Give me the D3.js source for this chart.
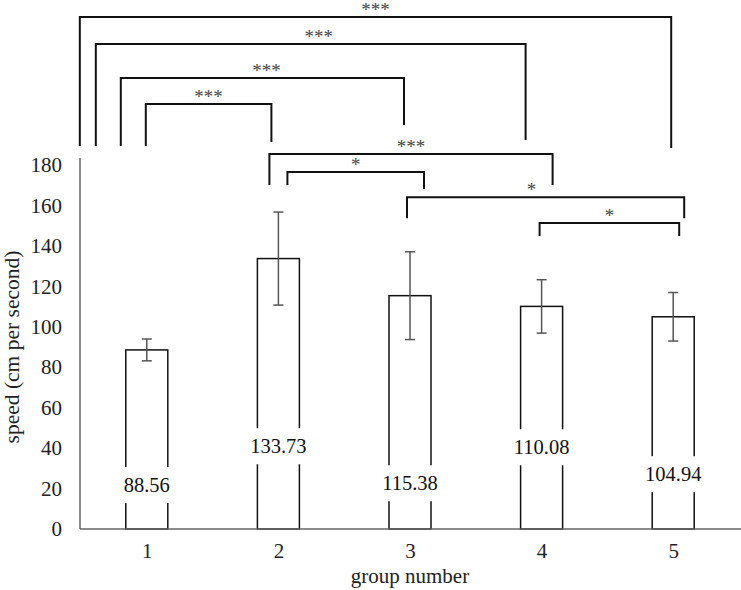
<!DOCTYPE html>
<html>
<head>
<meta charset="utf-8">
<script src="https://cdn.jsdelivr.net/npm/d3@7"></script>
<style>
  body { margin: 0; background: #fff; }
</style>
</head>
<body>
<script>
// data
var groups = ["1", "2", "3", "4", "5"];
var speeds = [88.56, 133.73, 115.38, 110.08, 104.94];
var errors = [5.4, 23, 21.7, 13.2, 12];
var yTicks = [0, 20, 40, 60, 80, 100, 120, 140, 160, 180];

// significance comparisons: from group, to group, stars
var compFrom = ["1", "1", "1", "1", "2", "2", "3", "4"];
var compTo = ["5", "4", "3", "2", "4", "3", "5", "5"];
var compStars = ["***", "***", "***", "***", "***", "*", "*", "*"];

// layout of the brackets (speed units for heights, px offsets from the group centre)
var compTop = [253.2, 239.8, 223, 210.2, 185.4, 176.5, 164.1, 151.3];
var compLegL = [189.4, 189.4, 189.4, 189.4, 170.1, 170.1, 153.7, 144.9];
var compLegR = [188.4, 192.4, 199.8, 191.4, 170.1, 168.1, 153.7, 144.9];
var compDxL = [-67, -51, -26, -1, -9, 9, -3, -2];
var compDxR = [-2, -16, -6, -7, 11, 14, 11, 6];
var starShift = [0, 8, 4, 0, 0, 0, -14, 0];

// where the value labels sit inside the bars (speed units)
var labelAt = [21.8, 41, 22.7, 40.5, 27.2];

var width = 741;
var height = 590;
var barWidth = 42;
var serif = "'Liberation Serif', 'DejaVu Serif', serif";

var svg = d3.select("body")
    .append("svg")
    .attr("width", width)
    .attr("height", height)
    .style("font-family", serif);

var x = d3.scalePoint()
    .domain(groups)
    .range([81, 739])
    .padding(0.5);

var y = d3.scaleLinear()
    .domain([0, 180])
    .range([529, 165]);

// y axis
var yAxis = svg.append("g")
    .attr("transform", "translate(80,0)")
    .call(d3.axisLeft(y).tickValues(yTicks).tickSize(0).tickPadding(18))
    .attr("font-family", null);
yAxis.select(".domain").remove();
yAxis.selectAll("text")
    .style("font-family", serif)
    .style("font-size", "21px")
    .attr("fill", "#222");
svg.append("line")
    .attr("x1", 80).attr("x2", 80)
    .attr("y1", y(0)).attr("y2", y(183.5))
    .attr("stroke", "#666")
    .attr("stroke-width", 1.5);

// x axis
var xAxis = svg.append("g")
    .attr("transform", "translate(0," + y(0) + ")")
    .call(d3.axisBottom(x).tickSize(0).tickPadding(14))
    .attr("font-family", null);
xAxis.select(".domain").remove();
xAxis.selectAll("text")
    .style("font-family", serif)
    .style("font-size", "21px")
    .attr("fill", "#222");

// bars (open boxes)
svg.selectAll(".bar")
    .data(speeds)
    .enter()
    .append("rect")
    .attr("class", "bar")
    .attr("x", function(d, i) { return x(groups[i]) - barWidth / 2; })
    .attr("y", function(d) { return y(d); })
    .attr("width", barWidth)
    .attr("height", function(d) { return y(0) - y(d); })
    .attr("fill", "#fff")
    .attr("stroke", "#111")
    .attr("stroke-width", 1.5);

svg.append("line")
    .attr("x1", 80).attr("x2", width)
    .attr("y1", y(0)).attr("y2", y(0))
    .attr("stroke", "#666")
    .attr("stroke-width", 1.5);

// error bars
var err = svg.selectAll(".err")
    .data(speeds)
    .enter()
    .append("g")
    .attr("class", "err")
    .attr("stroke", "#555")
    .attr("stroke-width", 1.5);
err.append("line")
    .attr("x1", function(d, i) { return x(groups[i]); })
    .attr("x2", function(d, i) { return x(groups[i]); })
    .attr("y1", function(d, i) { return y(d - errors[i]); })
    .attr("y2", function(d, i) { return y(d + errors[i]); });
[-1, 1].forEach(function(s) {
    err.append("line")
        .attr("x1", function(d, i) { return x(groups[i]) - 5; })
        .attr("x2", function(d, i) { return x(groups[i]) + 5; })
        .attr("y1", function(d, i) { return y(d + s * errors[i]); })
        .attr("y2", function(d, i) { return y(d + s * errors[i]); });
});

// value labels with white backing so they cut the bar sides
var lab = svg.selectAll(".lab")
    .data(speeds)
    .enter()
    .append("g")
    .attr("class", "lab");
lab.append("rect").attr("fill", "#fff");
lab.append("text")
    .attr("x", function(d, i) { return x(groups[i]); })
    .attr("y", function(d, i) { return y(labelAt[i]); })
    .attr("dy", "0.35em")
    .attr("text-anchor", "middle")
    .style("font-size", "20.5px")
    .attr("fill", "#111")
    .text(function(d) { return d.toFixed(2); });
lab.each(function() {
    var g = d3.select(this);
    var b = g.select("text").node().getBBox();
    g.select("rect")
        .attr("x", b.x - 3)
        .attr("width", b.width + 6)
        .attr("y", b.y + b.height / 2 - 18)
        .attr("height", 36);
});

// significance brackets
var comp = svg.selectAll(".comp")
    .data(compStars)
    .enter()
    .append("g")
    .attr("class", "comp");
comp.append("path")
    .attr("fill", "none")
    .attr("stroke", "#111")
    .attr("stroke-width", 2)
    .attr("d", function(d, i) {
        var xl = x(compFrom[i]) + compDxL[i];
        var xr = x(compTo[i]) + compDxR[i];
        return "M" + xl + "," + y(compLegL[i]) +
            "V" + y(compTop[i]) +
            "H" + xr +
            "V" + y(compLegR[i]);
    });
comp.append("text")
    .attr("x", function(d, i) {
        return (x(compFrom[i]) + compDxL[i] + x(compTo[i]) + compDxR[i]) / 2 + starShift[i];
    })
    .attr("y", function(d, i) { return y(compTop[i]) - 1; })
    .attr("text-anchor", "middle")
    .style("font-size", "19px")
    .attr("fill", "#444")
    .text(function(d) { return d; });

// axis titles
svg.append("text")
    .attr("transform", "translate(19,347) rotate(-90)")
    .attr("text-anchor", "middle")
    .style("font-size", "21.5px")
    .attr("fill", "#222")
    .text("speed (cm per second)");

svg.append("text")
    .attr("x", 410)
    .attr("y", 583)
    .attr("text-anchor", "middle")
    .style("font-size", "21px")
    .attr("fill", "#222")
    .text("group number");
</script>
</body>
</html>
